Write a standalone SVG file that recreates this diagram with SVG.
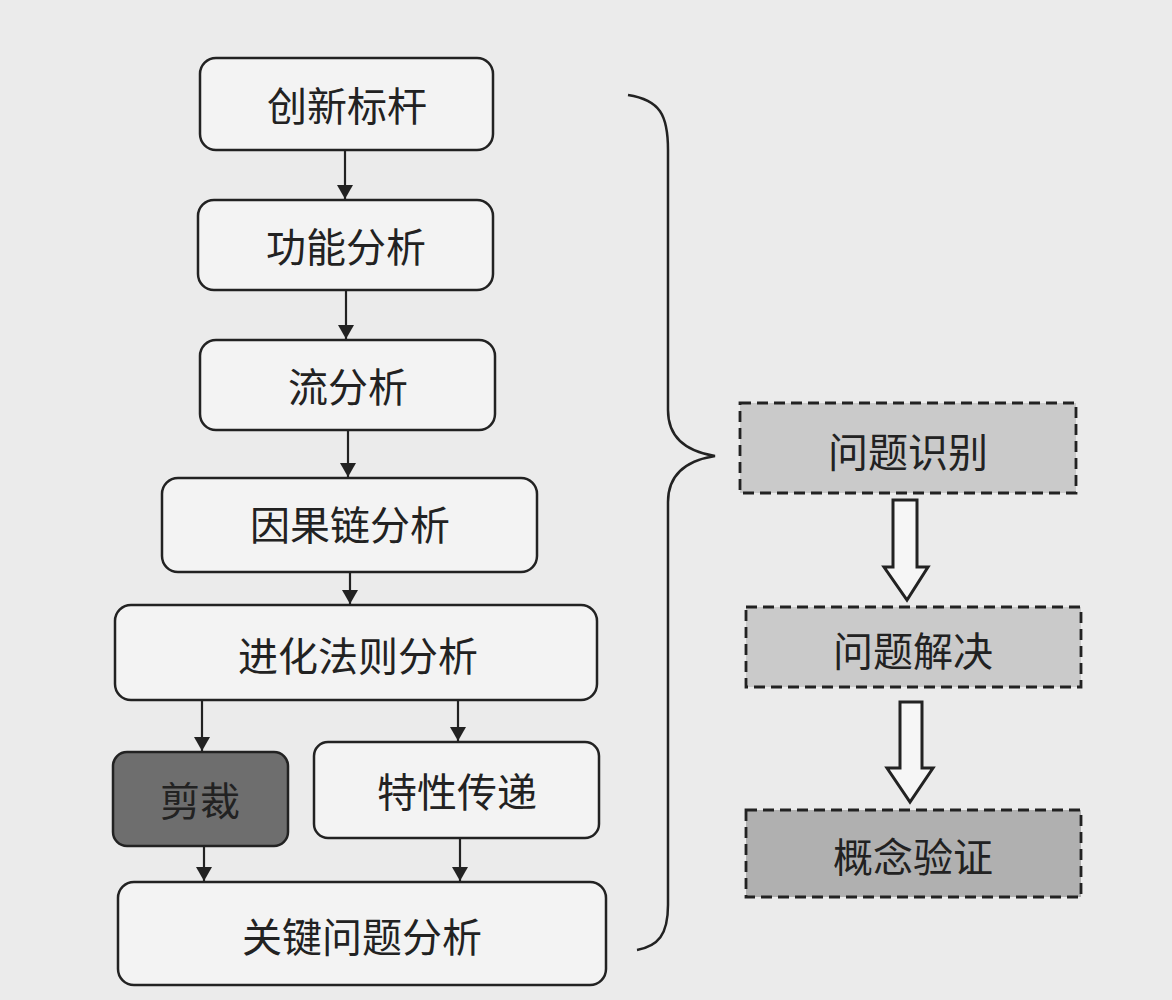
<svg xmlns="http://www.w3.org/2000/svg" width="1172" height="1000" viewBox="0 0 1172 1000">
<defs>
<marker id="ah" viewBox="0 0 14 16" refX="14" refY="8" markerWidth="14" markerHeight="16" markerUnits="userSpaceOnUse" orient="auto">
<path d="M0,0 L14,8 L0,16 Z" fill="#222"/>
</marker>
</defs>
<style>
.box{fill:#f3f3f3;stroke:#222;stroke-width:2.5}
.dark{fill:#6e6e6e;stroke:#222;stroke-width:2.5}
.dash{fill:#cacaca;stroke:#222;stroke-width:2.8;stroke-dasharray:11 6}
.dash2{fill:#b0b0b0;stroke:#222;stroke-width:2.8;stroke-dasharray:11 6}
.lbl{font-family:"Noto Sans CJK SC","Noto Sans",sans-serif;font-size:40px;fill:#222;text-anchor:middle;dominant-baseline:central}
.ln{stroke:#222;stroke-width:2.2;fill:none;marker-end:url(#ah)}
.hollow{fill:#f6f6f6;stroke:#222;stroke-width:3;stroke-linejoin:miter}
</style>
<rect width="1172" height="1000" fill="#ebebeb"/>

<g id="n1"><rect class="box" x="200" y="58" width="293" height="92" rx="16"/><text class="lbl" x="347" y="104">创新标杆</text></g>
<g id="n2"><rect class="box" x="198" y="200" width="295" height="90" rx="16"/><text class="lbl" x="346" y="245">功能分析</text></g>
<g id="n3"><rect class="box" x="200" y="340" width="295" height="90" rx="16"/><text class="lbl" x="348" y="385">流分析</text></g>
<g id="n4"><rect class="box" x="162" y="478" width="375" height="94" rx="16"/><text class="lbl" x="350" y="523">因果链分析</text></g>
<g id="n5"><rect class="box" x="115" y="605" width="482" height="95" rx="16"/><text class="lbl" x="358" y="654">进化法则分析</text></g>
<g id="n6"><rect class="dark" x="113" y="752" width="175" height="94" rx="14"/><text class="lbl" x="200" y="799">剪裁</text></g>
<g id="n7"><rect class="box" x="314" y="742" width="285" height="96" rx="14"/><text class="lbl" x="457" y="790">特性传递</text></g>
<g id="n8"><rect class="box" x="118" y="882" width="488" height="103" rx="16"/><text class="lbl" x="362" y="935">关键问题分析</text></g>

<g id="r1"><rect class="dash" x="740" y="403" width="336" height="90"/><text class="lbl" x="908" y="450">问题识别</text></g>
<g id="r2"><rect class="dash" x="746" y="607" width="335" height="80"/><text class="lbl" x="913" y="649">问题解决</text></g>
<g id="r3"><rect class="dash2" x="746" y="810" width="335" height="87"/><text class="lbl" x="913" y="855">概念验证</text></g>

<g id="connectors">
<line class="ln" x1="345" y1="150" x2="345" y2="199"/>
<line class="ln" x1="346" y1="290" x2="346" y2="339"/>
<line class="ln" x1="348" y1="430" x2="348" y2="477"/>
<line class="ln" x1="350" y1="572" x2="350" y2="604"/>
<line class="ln" x1="202" y1="700" x2="202" y2="751"/>
<line class="ln" x1="458" y1="700" x2="458" y2="741"/>
<line class="ln" x1="204" y1="846" x2="204" y2="881"/>
<line class="ln" x1="460" y1="838" x2="460" y2="881"/>
<path d="M628,95 C660,100 668,115 668,150 L668,410 C668,440 690,452 715,456 C690,460 668,472 668,502 L668,905 C668,935 658,946 637,950" fill="none" stroke="#222" stroke-width="2.5"/>
<path class="hollow" d="M893,500 L917,500 L917,567 L928,567 L907,600 L884,567 L893,567 Z"/>
<path class="hollow" d="M900,702 L922,702 L922,768 L933,768 L910,802 L887,768 L900,768 Z"/>
</g>
</svg>
